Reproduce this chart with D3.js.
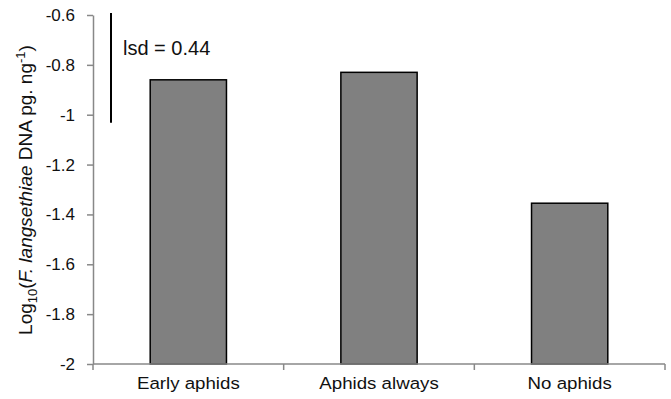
<!DOCTYPE html>
<html>
<head>
<meta charset="utf-8">
<script src="https://cdn.jsdelivr.net/npm/d3@7/dist/d3.min.js"></script>
<style>
  body { margin: 0; background: #fff; }
  svg { display: block; font-family: "Liberation Sans", Arial, sans-serif; }
</style>
</head>
<body>
<div id="chart"></div>
<script>
// data
var categories = ["Early aphids", "Aphids always", "No aphids"];
var values = [-0.86, -0.83, -1.355];
var yTicks = [-2, -1.8, -1.6, -1.4, -1.2, -1, -0.8, -0.6];
var lsdValue = 0.44;
var lsdTop = -0.592;

var width = 671, height = 399;
var margin = {top: 15, right: 6, bottom: 35, left: 93};

var svg = d3.select("#chart").append("svg")
    .attr("width", width)
    .attr("height", height);

var x = d3.scaleBand()
    .domain(categories)
    .range([margin.left, width - margin.right])
    .paddingInner(0.6)
    .paddingOuter(0.3);

var y = d3.scaleLinear()
    .domain([-2, -0.6])
    .range([height - margin.bottom, margin.top]);

// bars
svg.append("g").selectAll("rect")
    .data(values)
    .enter().append("rect")
    .attr("x", function(d, i) { return x(categories[i]); })
    .attr("width", x.bandwidth())
    .attr("y", function(d) { return y(d); })
    .attr("height", function(d) { return y(-2) - y(d); })
    .attr("fill", "#808080")
    .attr("stroke", "#000")
    .attr("stroke-width", 1.5);

// y axis (hyphen minus like excel)
var yAxis = svg.append("g")
    .attr("transform", "translate(" + margin.left + ",0)")
    .call(d3.axisLeft(y).tickValues(yTicks).tickSize(6).tickSizeOuter(0)
        .tickFormat(function(d) { return String(+d.toFixed(1)); }));
yAxis.select(".domain").attr("stroke", "#888").attr("stroke-width", 1.5);
yAxis.selectAll(".tick line").attr("stroke", "#888").attr("stroke-width", 1.5);
yAxis.selectAll(".tick text")
    .attr("x", -18)
    .attr("fill", "#111")
    .style("font-size", "17px")
    .style("font-family", "Liberation Sans, Arial, sans-serif");

// x axis with ticks on category boundaries
var xg = svg.append("g")
    .attr("transform", "translate(0," + y(-2) + ")");
xg.append("line")
    .attr("x1", margin.left).attr("x2", width - margin.right)
    .attr("stroke", "#888").attr("stroke-width", 1.5);
var step = (width - margin.right - margin.left) / categories.length;
xg.selectAll(".xtick")
    .data(d3.range(categories.length + 1))
    .enter().append("line")
    .attr("x1", function(i) { return margin.left + i * step; })
    .attr("x2", function(i) { return margin.left + i * step; })
    .attr("y1", 0).attr("y2", 6)
    .attr("stroke", "#888").attr("stroke-width", 1.5);
xg.selectAll(".xlabel")
    .data(categories)
    .enter().append("text")
    .attr("transform", function(d) {
        return "translate(" + (x(d) + x.bandwidth() / 2) + ",25) scale(1.1,1)";
    })
    .attr("text-anchor", "middle")
    .attr("fill", "#111")
    .style("font-size", "17px")
    .text(function(d) { return d; });

// lsd bar
svg.append("line")
    .attr("x1", 111).attr("x2", 111)
    .attr("y1", y(lsdTop)).attr("y2", y(lsdTop - lsdValue))
    .attr("stroke", "#000").attr("stroke-width", 2);
svg.append("text")
    .attr("x", 123).attr("y", 55)
    .attr("fill", "#111")
    .style("font-size", "20px")
    .text("lsd = " + lsdValue.toFixed(2));

// y axis title
var title = svg.append("text")
    .attr("transform", "translate(32,190) rotate(-90)")
    .attr("text-anchor", "middle")
    .attr("fill", "#111")
    .style("font-size", "19px");
title.append("tspan").text("Log");
title.append("tspan").attr("dy", 5).style("font-size", "13px").text("10");
title.append("tspan").attr("dy", -5).text("(");
title.append("tspan").style("font-style", "italic").text("F. langsethiae");
title.append("tspan").text(" DNA pg. ng");
title.append("tspan").attr("dy", -7).style("font-size", "13px").text("-1");
title.append("tspan").attr("dy", 7).text(")");
</script>
</body>
</html>
